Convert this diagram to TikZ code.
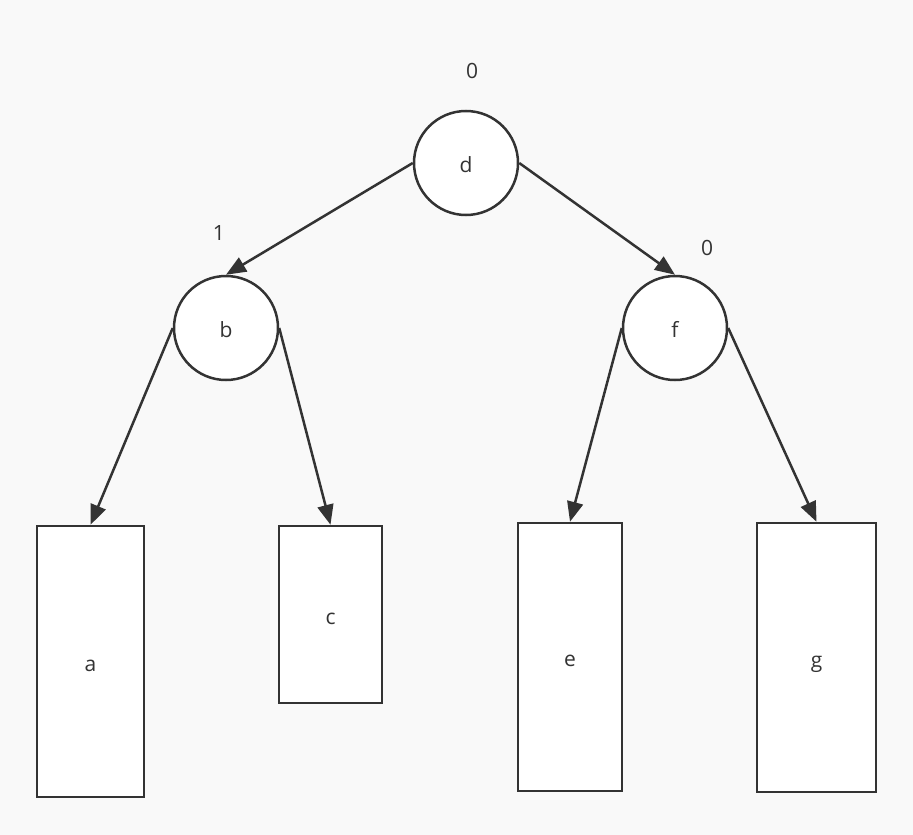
\documentclass[tikz,border=0pt]{standalone}
\usepackage{fontspec}
\setmainfont{Open Sans}
\usetikzlibrary{arrows.meta}
\definecolor{ink}{HTML}{333333}
\definecolor{paper}{HTML}{F9F9F9}
\newcommand{\lowered}[1]{\raisebox{-7pt}{#1}}
\begin{document}
\begin{tikzpicture}[x=1pt,y=-1pt,
  labelfont/.style={font=\fontsize{21}{24}\selectfont,text=ink},
  treenode/.style={circle,draw=ink,fill=white,line width=2.5pt,minimum size=104pt,inner sep=0pt,labelfont,text height=0.75em,text depth=0.25em},
  leafbox/.style={rectangle,draw=ink,fill=white,line width=2.5pt,inner sep=0pt,labelfont,text height=0.75em,text depth=0.25em},
  weight/.style={labelfont,anchor=base,inner sep=0pt},
  link/.style={draw=ink,line width=2.5pt,-{Triangle[length=20pt,width=16pt]}}]
  \fill[paper] (0,0) rectangle (913,835);
  \useasboundingbox (0,0) rectangle (913,835);
  % internal nodes
  \node[treenode] (d) at (466,163) {\lowered{d}};
  \node[treenode] (b) at (226,328) {\lowered{b}};
  \node[treenode] (f) at (675,328) {\lowered{f}};
  % leaves
  \node[leafbox,minimum width=107pt,minimum height=271pt] (a) at (90.5,661.5) {\lowered{a}};
  \node[leafbox,minimum width=103pt,minimum height=177pt] (c) at (330.5,614.5) {\lowered{c}};
  \node[leafbox,minimum width=104pt,minimum height=268pt] (e) at (570,657) {\lowered{e}};
  \node[leafbox,minimum width=119pt,minimum height=269pt] (g) at (816.5,657.5) {\lowered{g}};
  % balance labels
  \node[weight] (wd) at (472,78) {0};
  \node[weight] (wb) at (219,240) {1};
  \node[weight] (wf) at (707,255) {0};
  % connectors
  \draw[link] (d.west) -- (b.north);
  \draw[link] (d.east) -- (f.north);
  \draw[link] (b.west) -- (a.north);
  \draw[link] (b.east) -- (c.north);
  \draw[link] (f.west) -- (e.north);
  \draw[link] (f.east) -- (g.north);
\end{tikzpicture}
\end{document}
